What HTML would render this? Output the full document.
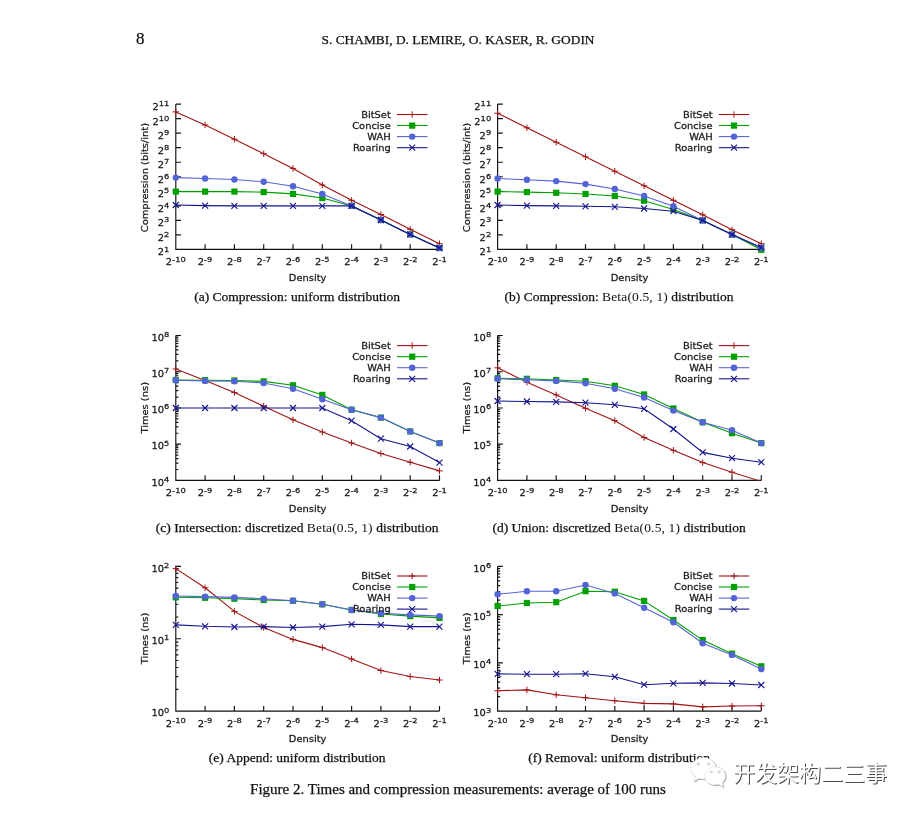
<!DOCTYPE html>
<html lang="en"><head><meta charset="utf-8"><title>Figure 2</title>
<style>
html,body{margin:0;padding:0;background:#fff}
body{width:916px;height:814px;position:relative;overflow:hidden;font-family:"Liberation Serif","Noto Serif CJK SC",serif;color:#111;-webkit-text-stroke:0.25px #111}
.pg{position:absolute;left:136px;top:29px;font-size:17px;line-height:20px}
.hd{position:absolute;left:258px;width:400px;top:31px;text-align:center;font-size:13.4px;line-height:18px;white-space:nowrap}
.cap{position:absolute;width:400px;text-align:center;font-size:13.5px;line-height:18px;white-space:nowrap}
.cm{font-family:"Liberation Serif",serif;letter-spacing:0.15px;-webkit-text-stroke:0}
.fig{position:absolute;left:158px;width:600px;top:779.5px;text-align:center;font-size:15px;line-height:18px;white-space:nowrap}
.wm{position:absolute;left:733px;top:759px;font-family:"Liberation Sans","Noto Sans CJK SC",sans-serif;font-size:22px;line-height:30px;color:#fff;font-weight:400;-webkit-text-stroke:0;text-shadow:0.9px 0.9px 0.3px #4c4c4c;white-space:nowrap}
svg text{stroke:#181818;stroke-width:0.25px}
</style></head><body>
<div class="pg">8</div>
<div class="hd">S. CHAMBI, D. LEMIRE, O. KASER, R. GODIN</div>
<svg width="916" height="814" viewBox="0 0 916 814" style="position:absolute;left:0;top:0" font-family="'DejaVu Sans','Liberation Sans',sans-serif" font-size="9.25" fill="#181818">
<g>
<text transform="translate(169.4 110.0) scale(1.07 1)" text-anchor="end">2<tspan dy="-3.8" font-size="7.8">11</tspan></text>
<text transform="translate(169.4 124.5) scale(1.07 1)" text-anchor="end">2<tspan dy="-3.8" font-size="7.8">10</tspan></text>
<text transform="translate(169.4 139.1) scale(1.07 1)" text-anchor="end">2<tspan dy="-3.8" font-size="7.8">9</tspan></text>
<text transform="translate(169.4 153.6) scale(1.07 1)" text-anchor="end">2<tspan dy="-3.8" font-size="7.8">8</tspan></text>
<text transform="translate(169.4 168.1) scale(1.07 1)" text-anchor="end">2<tspan dy="-3.8" font-size="7.8">7</tspan></text>
<text transform="translate(169.4 182.7) scale(1.07 1)" text-anchor="end">2<tspan dy="-3.8" font-size="7.8">6</tspan></text>
<text transform="translate(169.4 197.2) scale(1.07 1)" text-anchor="end">2<tspan dy="-3.8" font-size="7.8">5</tspan></text>
<text transform="translate(169.4 211.7) scale(1.07 1)" text-anchor="end">2<tspan dy="-3.8" font-size="7.8">4</tspan></text>
<text transform="translate(169.4 226.2) scale(1.07 1)" text-anchor="end">2<tspan dy="-3.8" font-size="7.8">3</tspan></text>
<text transform="translate(169.4 240.8) scale(1.07 1)" text-anchor="end">2<tspan dy="-3.8" font-size="7.8">2</tspan></text>
<text transform="translate(169.4 255.3) scale(1.07 1)" text-anchor="end">2<tspan dy="-3.8" font-size="7.8">1</tspan></text>
<text transform="translate(175.8 265.4) scale(1.07 1)" text-anchor="middle">2<tspan dy="-3.8" font-size="7.8">-10</tspan></text>
<text transform="translate(205.1 265.4) scale(1.07 1)" text-anchor="middle">2<tspan dy="-3.8" font-size="7.8">-9</tspan></text>
<text transform="translate(234.4 265.4) scale(1.07 1)" text-anchor="middle">2<tspan dy="-3.8" font-size="7.8">-8</tspan></text>
<text transform="translate(263.7 265.4) scale(1.07 1)" text-anchor="middle">2<tspan dy="-3.8" font-size="7.8">-7</tspan></text>
<text transform="translate(293.0 265.4) scale(1.07 1)" text-anchor="middle">2<tspan dy="-3.8" font-size="7.8">-6</tspan></text>
<text transform="translate(322.3 265.4) scale(1.07 1)" text-anchor="middle">2<tspan dy="-3.8" font-size="7.8">-5</tspan></text>
<text transform="translate(351.6 265.4) scale(1.07 1)" text-anchor="middle">2<tspan dy="-3.8" font-size="7.8">-4</tspan></text>
<text transform="translate(380.9 265.4) scale(1.07 1)" text-anchor="middle">2<tspan dy="-3.8" font-size="7.8">-3</tspan></text>
<text transform="translate(410.2 265.4) scale(1.07 1)" text-anchor="middle">2<tspan dy="-3.8" font-size="7.8">-2</tspan></text>
<text transform="translate(439.5 265.4) scale(1.07 1)" text-anchor="middle">2<tspan dy="-3.8" font-size="7.8">-1</tspan></text>
<path d="M175.8 104.1V249.4H439.5M175.8 104.10h5.2M175.8 118.63h5.2M175.8 133.16h5.2M175.8 147.69h5.2M175.8 162.22h5.2M175.8 176.75h5.2M175.8 191.28h5.2M175.8 205.81h5.2M175.8 220.34h5.2M175.8 234.87h5.2M175.8 249.40h5.2M175.8 249.4v-5.2M205.1 249.4v-5.2M234.4 249.4v-5.2M263.7 249.4v-5.2M293.0 249.4v-5.2M322.3 249.4v-5.2M351.6 249.4v-5.2M380.9 249.4v-5.2M410.2 249.4v-5.2M439.5 249.4v-5.2" stroke="#111" stroke-width="1.15" fill="none"/>
<text transform="translate(307.6 280.6) scale(1.07 1)" text-anchor="middle">Density</text>
<text transform="translate(147.8 177.6) rotate(-90) scale(1.07 1)" text-anchor="middle">Compression (bits/int)</text>
<clipPath id="cp0"><rect x="169.8" y="98.1" width="275.7" height="151.7"/></clipPath>
<g clip-path="url(#cp0)">
<polyline points="175.8,111.9 205.1,125.0 234.4,139.2 263.7,153.7 293.0,168.4 322.3,185.0 351.6,200.3 380.9,214.6 410.2,229.3 439.5,243.7" stroke="#a01414" stroke-width="1.1" fill="none"/>
</g>
<path d="M172.6 111.9h6.4M175.8 108.7v6.4" stroke="#a01414" stroke-width="1" fill="none"/>
<path d="M201.9 125.0h6.4M205.1 121.8v6.4" stroke="#a01414" stroke-width="1" fill="none"/>
<path d="M231.2 139.2h6.4M234.4 136.0v6.4" stroke="#a01414" stroke-width="1" fill="none"/>
<path d="M260.5 153.7h6.4M263.7 150.5v6.4" stroke="#a01414" stroke-width="1" fill="none"/>
<path d="M289.8 168.4h6.4M293.0 165.2v6.4" stroke="#a01414" stroke-width="1" fill="none"/>
<path d="M319.1 185.0h6.4M322.3 181.8v6.4" stroke="#a01414" stroke-width="1" fill="none"/>
<path d="M348.4 200.3h6.4M351.6 197.1v6.4" stroke="#a01414" stroke-width="1" fill="none"/>
<path d="M377.7 214.6h6.4M380.9 211.4v6.4" stroke="#a01414" stroke-width="1" fill="none"/>
<path d="M407.0 229.3h6.4M410.2 226.1v6.4" stroke="#a01414" stroke-width="1" fill="none"/>
<path d="M436.3 243.7h6.4M439.5 240.5v6.4" stroke="#a01414" stroke-width="1" fill="none"/>
<g clip-path="url(#cp0)">
<polyline points="175.8,191.6 205.1,191.6 234.4,191.6 263.7,192.1 293.0,193.9 322.3,198.0 351.6,205.9 380.9,220.0 410.2,234.4 439.5,248.0" stroke="#00a000" stroke-width="1.1" fill="none"/>
</g>
<rect x="172.7" y="188.5" width="6.2" height="6.2" fill="#00a000"/>
<rect x="202.0" y="188.5" width="6.2" height="6.2" fill="#00a000"/>
<rect x="231.3" y="188.5" width="6.2" height="6.2" fill="#00a000"/>
<rect x="260.6" y="189.0" width="6.2" height="6.2" fill="#00a000"/>
<rect x="289.9" y="190.8" width="6.2" height="6.2" fill="#00a000"/>
<rect x="319.2" y="194.9" width="6.2" height="6.2" fill="#00a000"/>
<rect x="348.5" y="202.8" width="6.2" height="6.2" fill="#00a000"/>
<rect x="377.8" y="216.9" width="6.2" height="6.2" fill="#00a000"/>
<rect x="407.1" y="231.3" width="6.2" height="6.2" fill="#00a000"/>
<rect x="436.4" y="244.9" width="6.2" height="6.2" fill="#00a000"/>
<g clip-path="url(#cp0)">
<polyline points="175.8,177.6 205.1,178.5 234.4,179.5 263.7,181.8 293.0,186.2 322.3,194.0 351.6,205.9 380.9,220.0 410.2,234.4 439.5,248.0" stroke="#5464d6" stroke-width="1.1" fill="none"/>
</g>
<circle cx="175.8" cy="177.6" r="3.2" fill="#5464d6"/>
<circle cx="205.1" cy="178.5" r="3.2" fill="#5464d6"/>
<circle cx="234.4" cy="179.5" r="3.2" fill="#5464d6"/>
<circle cx="263.7" cy="181.8" r="3.2" fill="#5464d6"/>
<circle cx="293.0" cy="186.2" r="3.2" fill="#5464d6"/>
<circle cx="322.3" cy="194.0" r="3.2" fill="#5464d6"/>
<circle cx="351.6" cy="205.9" r="3.2" fill="#5464d6"/>
<circle cx="380.9" cy="220.0" r="3.2" fill="#5464d6"/>
<circle cx="410.2" cy="234.4" r="3.2" fill="#5464d6"/>
<circle cx="439.5" cy="248.0" r="3.2" fill="#5464d6"/>
<g clip-path="url(#cp0)">
<polyline points="175.8,205.0 205.1,205.6 234.4,205.9 263.7,205.9 293.0,205.9 322.3,205.9 351.6,205.9 380.9,220.0 410.2,234.4 439.5,248.0" stroke="#14148c" stroke-width="1.1" fill="none"/>
</g>
<path d="M172.8 202.0l6 6M172.8 208.0l6 -6" stroke="#14148c" stroke-width="1.1" fill="none"/>
<path d="M202.1 202.6l6 6M202.1 208.6l6 -6" stroke="#14148c" stroke-width="1.1" fill="none"/>
<path d="M231.4 202.9l6 6M231.4 208.9l6 -6" stroke="#14148c" stroke-width="1.1" fill="none"/>
<path d="M260.7 202.9l6 6M260.7 208.9l6 -6" stroke="#14148c" stroke-width="1.1" fill="none"/>
<path d="M290.0 202.9l6 6M290.0 208.9l6 -6" stroke="#14148c" stroke-width="1.1" fill="none"/>
<path d="M319.3 202.9l6 6M319.3 208.9l6 -6" stroke="#14148c" stroke-width="1.1" fill="none"/>
<path d="M348.6 202.9l6 6M348.6 208.9l6 -6" stroke="#14148c" stroke-width="1.1" fill="none"/>
<path d="M377.9 217.0l6 6M377.9 223.0l6 -6" stroke="#14148c" stroke-width="1.1" fill="none"/>
<path d="M407.2 231.4l6 6M407.2 237.4l6 -6" stroke="#14148c" stroke-width="1.1" fill="none"/>
<path d="M436.5 245.0l6 6M436.5 251.0l6 -6" stroke="#14148c" stroke-width="1.1" fill="none"/>
<g clip-path="url(#cp0)">
</g>
<text transform="translate(390.8 117.5) scale(1.07 1)" text-anchor="end">BitSet</text>
<path d="M397.0 114.5h30.5" stroke="#a01414" stroke-width="1.1"/>
<path d="M409.0 114.5h6.4M412.2 111.3v6.4" stroke="#a01414" stroke-width="1" fill="none"/>
<text transform="translate(390.8 128.6) scale(1.07 1)" text-anchor="end">Concise</text>
<path d="M397.0 125.5h30.5" stroke="#00a000" stroke-width="1.1"/>
<rect x="409.1" y="122.5" width="6.2" height="6.2" fill="#00a000"/>
<text transform="translate(390.8 139.6) scale(1.07 1)" text-anchor="end">WAH</text>
<path d="M397.0 136.6h30.5" stroke="#5464d6" stroke-width="1.1"/>
<circle cx="412.2" cy="136.6" r="3.2" fill="#5464d6"/>
<text transform="translate(390.8 150.7) scale(1.07 1)" text-anchor="end">Roaring</text>
<path d="M397.0 147.7h30.5" stroke="#14148c" stroke-width="1.1"/>
<path d="M409.2 144.7l6 6M409.2 150.7l6 -6" stroke="#14148c" stroke-width="1.1" fill="none"/>
</g>
<g>
<text transform="translate(491.2 110.0) scale(1.07 1)" text-anchor="end">2<tspan dy="-3.8" font-size="7.8">11</tspan></text>
<text transform="translate(491.2 124.5) scale(1.07 1)" text-anchor="end">2<tspan dy="-3.8" font-size="7.8">10</tspan></text>
<text transform="translate(491.2 139.1) scale(1.07 1)" text-anchor="end">2<tspan dy="-3.8" font-size="7.8">9</tspan></text>
<text transform="translate(491.2 153.6) scale(1.07 1)" text-anchor="end">2<tspan dy="-3.8" font-size="7.8">8</tspan></text>
<text transform="translate(491.2 168.1) scale(1.07 1)" text-anchor="end">2<tspan dy="-3.8" font-size="7.8">7</tspan></text>
<text transform="translate(491.2 182.7) scale(1.07 1)" text-anchor="end">2<tspan dy="-3.8" font-size="7.8">6</tspan></text>
<text transform="translate(491.2 197.2) scale(1.07 1)" text-anchor="end">2<tspan dy="-3.8" font-size="7.8">5</tspan></text>
<text transform="translate(491.2 211.7) scale(1.07 1)" text-anchor="end">2<tspan dy="-3.8" font-size="7.8">4</tspan></text>
<text transform="translate(491.2 226.2) scale(1.07 1)" text-anchor="end">2<tspan dy="-3.8" font-size="7.8">3</tspan></text>
<text transform="translate(491.2 240.8) scale(1.07 1)" text-anchor="end">2<tspan dy="-3.8" font-size="7.8">2</tspan></text>
<text transform="translate(491.2 255.3) scale(1.07 1)" text-anchor="end">2<tspan dy="-3.8" font-size="7.8">1</tspan></text>
<text transform="translate(497.6 265.4) scale(1.07 1)" text-anchor="middle">2<tspan dy="-3.8" font-size="7.8">-10</tspan></text>
<text transform="translate(526.9 265.4) scale(1.07 1)" text-anchor="middle">2<tspan dy="-3.8" font-size="7.8">-9</tspan></text>
<text transform="translate(556.2 265.4) scale(1.07 1)" text-anchor="middle">2<tspan dy="-3.8" font-size="7.8">-8</tspan></text>
<text transform="translate(585.5 265.4) scale(1.07 1)" text-anchor="middle">2<tspan dy="-3.8" font-size="7.8">-7</tspan></text>
<text transform="translate(614.8 265.4) scale(1.07 1)" text-anchor="middle">2<tspan dy="-3.8" font-size="7.8">-6</tspan></text>
<text transform="translate(644.1 265.4) scale(1.07 1)" text-anchor="middle">2<tspan dy="-3.8" font-size="7.8">-5</tspan></text>
<text transform="translate(673.4 265.4) scale(1.07 1)" text-anchor="middle">2<tspan dy="-3.8" font-size="7.8">-4</tspan></text>
<text transform="translate(702.7 265.4) scale(1.07 1)" text-anchor="middle">2<tspan dy="-3.8" font-size="7.8">-3</tspan></text>
<text transform="translate(732.0 265.4) scale(1.07 1)" text-anchor="middle">2<tspan dy="-3.8" font-size="7.8">-2</tspan></text>
<text transform="translate(761.3 265.4) scale(1.07 1)" text-anchor="middle">2<tspan dy="-3.8" font-size="7.8">-1</tspan></text>
<path d="M497.6 104.1V249.4H761.3M497.6 104.10h5.2M497.6 118.63h5.2M497.6 133.16h5.2M497.6 147.69h5.2M497.6 162.22h5.2M497.6 176.75h5.2M497.6 191.28h5.2M497.6 205.81h5.2M497.6 220.34h5.2M497.6 234.87h5.2M497.6 249.40h5.2M497.6 249.4v-5.2M526.9 249.4v-5.2M556.2 249.4v-5.2M585.5 249.4v-5.2M614.8 249.4v-5.2M644.1 249.4v-5.2M673.4 249.4v-5.2M702.7 249.4v-5.2M732.0 249.4v-5.2M761.3 249.4v-5.2" stroke="#111" stroke-width="1.15" fill="none"/>
<text transform="translate(629.5 280.6) scale(1.07 1)" text-anchor="middle">Density</text>
<text transform="translate(469.6 177.6) rotate(-90) scale(1.07 1)" text-anchor="middle">Compression (bits/int)</text>
<clipPath id="cp1"><rect x="491.6" y="98.1" width="275.7" height="151.7"/></clipPath>
<g clip-path="url(#cp1)">
<polyline points="497.6,113.2 526.9,127.8 556.2,142.3 585.5,156.8 614.8,171.2 644.1,185.8 673.4,200.3 702.7,214.8 732.0,229.7 761.3,243.7" stroke="#a01414" stroke-width="1.1" fill="none"/>
</g>
<path d="M494.4 113.2h6.4M497.6 110.0v6.4" stroke="#a01414" stroke-width="1" fill="none"/>
<path d="M523.7 127.8h6.4M526.9 124.6v6.4" stroke="#a01414" stroke-width="1" fill="none"/>
<path d="M553.0 142.3h6.4M556.2 139.1v6.4" stroke="#a01414" stroke-width="1" fill="none"/>
<path d="M582.3 156.8h6.4M585.5 153.6v6.4" stroke="#a01414" stroke-width="1" fill="none"/>
<path d="M611.6 171.2h6.4M614.8 168.0v6.4" stroke="#a01414" stroke-width="1" fill="none"/>
<path d="M640.9 185.8h6.4M644.1 182.6v6.4" stroke="#a01414" stroke-width="1" fill="none"/>
<path d="M670.2 200.3h6.4M673.4 197.1v6.4" stroke="#a01414" stroke-width="1" fill="none"/>
<path d="M699.5 214.8h6.4M702.7 211.6v6.4" stroke="#a01414" stroke-width="1" fill="none"/>
<path d="M728.8 229.7h6.4M732.0 226.5v6.4" stroke="#a01414" stroke-width="1" fill="none"/>
<path d="M758.1 243.7h6.4M761.3 240.5v6.4" stroke="#a01414" stroke-width="1" fill="none"/>
<g clip-path="url(#cp1)">
<polyline points="497.6,191.6 526.9,192.1 556.2,192.8 585.5,194.0 614.8,196.0 644.1,200.7 673.4,209.4 702.7,220.4 732.0,234.6 761.3,249.8" stroke="#00a000" stroke-width="1.1" fill="none"/>
</g>
<rect x="494.5" y="188.5" width="6.2" height="6.2" fill="#00a000"/>
<rect x="523.8" y="189.0" width="6.2" height="6.2" fill="#00a000"/>
<rect x="553.1" y="189.7" width="6.2" height="6.2" fill="#00a000"/>
<rect x="582.4" y="190.9" width="6.2" height="6.2" fill="#00a000"/>
<rect x="611.7" y="192.9" width="6.2" height="6.2" fill="#00a000"/>
<rect x="641.0" y="197.6" width="6.2" height="6.2" fill="#00a000"/>
<rect x="670.3" y="206.3" width="6.2" height="6.2" fill="#00a000"/>
<rect x="699.6" y="217.3" width="6.2" height="6.2" fill="#00a000"/>
<rect x="728.9" y="231.5" width="6.2" height="6.2" fill="#00a000"/>
<rect x="758.2" y="246.7" width="6.2" height="6.2" fill="#00a000"/>
<g clip-path="url(#cp1)">
<polyline points="497.6,178.5 526.9,179.7 556.2,181.1 585.5,184.1 614.8,189.0 644.1,196.0 673.4,206.3 702.7,220.4 732.0,234.6 761.3,248.0" stroke="#5464d6" stroke-width="1.1" fill="none"/>
</g>
<circle cx="497.6" cy="178.5" r="3.2" fill="#5464d6"/>
<circle cx="526.9" cy="179.7" r="3.2" fill="#5464d6"/>
<circle cx="556.2" cy="181.1" r="3.2" fill="#5464d6"/>
<circle cx="585.5" cy="184.1" r="3.2" fill="#5464d6"/>
<circle cx="614.8" cy="189.0" r="3.2" fill="#5464d6"/>
<circle cx="644.1" cy="196.0" r="3.2" fill="#5464d6"/>
<circle cx="673.4" cy="206.3" r="3.2" fill="#5464d6"/>
<circle cx="702.7" cy="220.4" r="3.2" fill="#5464d6"/>
<circle cx="732.0" cy="234.6" r="3.2" fill="#5464d6"/>
<circle cx="761.3" cy="248.0" r="3.2" fill="#5464d6"/>
<g clip-path="url(#cp1)">
<polyline points="497.6,205.0 526.9,205.6 556.2,205.9 585.5,206.3 614.8,206.8 644.1,208.5 673.4,211.2 702.7,220.4 732.0,234.6 761.3,247.5" stroke="#14148c" stroke-width="1.1" fill="none"/>
</g>
<path d="M494.6 202.0l6 6M494.6 208.0l6 -6" stroke="#14148c" stroke-width="1.1" fill="none"/>
<path d="M523.9 202.6l6 6M523.9 208.6l6 -6" stroke="#14148c" stroke-width="1.1" fill="none"/>
<path d="M553.2 202.9l6 6M553.2 208.9l6 -6" stroke="#14148c" stroke-width="1.1" fill="none"/>
<path d="M582.5 203.3l6 6M582.5 209.3l6 -6" stroke="#14148c" stroke-width="1.1" fill="none"/>
<path d="M611.8 203.8l6 6M611.8 209.8l6 -6" stroke="#14148c" stroke-width="1.1" fill="none"/>
<path d="M641.1 205.5l6 6M641.1 211.5l6 -6" stroke="#14148c" stroke-width="1.1" fill="none"/>
<path d="M670.4 208.2l6 6M670.4 214.2l6 -6" stroke="#14148c" stroke-width="1.1" fill="none"/>
<path d="M699.7 217.4l6 6M699.7 223.4l6 -6" stroke="#14148c" stroke-width="1.1" fill="none"/>
<path d="M729.0 231.6l6 6M729.0 237.6l6 -6" stroke="#14148c" stroke-width="1.1" fill="none"/>
<path d="M758.3 244.5l6 6M758.3 250.5l6 -6" stroke="#14148c" stroke-width="1.1" fill="none"/>
<g clip-path="url(#cp1)">
</g>
<text transform="translate(712.6 117.5) scale(1.07 1)" text-anchor="end">BitSet</text>
<path d="M718.8 114.5h30.5" stroke="#a01414" stroke-width="1.1"/>
<path d="M730.8 114.5h6.4M734.0 111.3v6.4" stroke="#a01414" stroke-width="1" fill="none"/>
<text transform="translate(712.6 128.6) scale(1.07 1)" text-anchor="end">Concise</text>
<path d="M718.8 125.5h30.5" stroke="#00a000" stroke-width="1.1"/>
<rect x="730.9" y="122.5" width="6.2" height="6.2" fill="#00a000"/>
<text transform="translate(712.6 139.6) scale(1.07 1)" text-anchor="end">WAH</text>
<path d="M718.8 136.6h30.5" stroke="#5464d6" stroke-width="1.1"/>
<circle cx="734.0" cy="136.6" r="3.2" fill="#5464d6"/>
<text transform="translate(712.6 150.7) scale(1.07 1)" text-anchor="end">Roaring</text>
<path d="M718.8 147.7h30.5" stroke="#14148c" stroke-width="1.1"/>
<path d="M731.0 144.7l6 6M731.0 150.7l6 -6" stroke="#14148c" stroke-width="1.1" fill="none"/>
</g>
<g>
<text transform="translate(169.4 340.7) scale(1.07 1)" text-anchor="end">10<tspan dy="-3.8" font-size="7.8">8</tspan></text>
<text transform="translate(169.4 376.9) scale(1.07 1)" text-anchor="end">10<tspan dy="-3.8" font-size="7.8">7</tspan></text>
<text transform="translate(169.4 413.1) scale(1.07 1)" text-anchor="end">10<tspan dy="-3.8" font-size="7.8">6</tspan></text>
<text transform="translate(169.4 449.4) scale(1.07 1)" text-anchor="end">10<tspan dy="-3.8" font-size="7.8">5</tspan></text>
<text transform="translate(169.4 485.6) scale(1.07 1)" text-anchor="end">10<tspan dy="-3.8" font-size="7.8">4</tspan></text>
<text transform="translate(175.8 496.4) scale(1.07 1)" text-anchor="middle">2<tspan dy="-3.8" font-size="7.8">-10</tspan></text>
<text transform="translate(205.1 496.4) scale(1.07 1)" text-anchor="middle">2<tspan dy="-3.8" font-size="7.8">-9</tspan></text>
<text transform="translate(234.4 496.4) scale(1.07 1)" text-anchor="middle">2<tspan dy="-3.8" font-size="7.8">-8</tspan></text>
<text transform="translate(263.7 496.4) scale(1.07 1)" text-anchor="middle">2<tspan dy="-3.8" font-size="7.8">-7</tspan></text>
<text transform="translate(293.0 496.4) scale(1.07 1)" text-anchor="middle">2<tspan dy="-3.8" font-size="7.8">-6</tspan></text>
<text transform="translate(322.3 496.4) scale(1.07 1)" text-anchor="middle">2<tspan dy="-3.8" font-size="7.8">-5</tspan></text>
<text transform="translate(351.6 496.4) scale(1.07 1)" text-anchor="middle">2<tspan dy="-3.8" font-size="7.8">-4</tspan></text>
<text transform="translate(380.9 496.4) scale(1.07 1)" text-anchor="middle">2<tspan dy="-3.8" font-size="7.8">-3</tspan></text>
<text transform="translate(410.2 496.4) scale(1.07 1)" text-anchor="middle">2<tspan dy="-3.8" font-size="7.8">-2</tspan></text>
<text transform="translate(439.5 496.4) scale(1.07 1)" text-anchor="middle">2<tspan dy="-3.8" font-size="7.8">-1</tspan></text>
<path d="M175.8 335.5V480.4H439.5M175.8 335.50h5.2M175.8 360.82h2.6M175.8 354.44h2.6M175.8 349.92h2.6M175.8 346.40h2.6M175.8 343.54h2.6M175.8 341.11h2.6M175.8 339.01h2.6M175.8 337.16h2.6M175.8 371.73h5.2M175.8 397.05h2.6M175.8 390.67h2.6M175.8 386.14h2.6M175.8 382.63h2.6M175.8 379.76h2.6M175.8 377.34h2.6M175.8 375.24h2.6M175.8 373.38h2.6M175.8 407.95h5.2M175.8 433.27h2.6M175.8 426.89h2.6M175.8 422.37h2.6M175.8 418.85h2.6M175.8 415.99h2.6M175.8 413.56h2.6M175.8 411.46h2.6M175.8 409.61h2.6M175.8 444.17h5.2M175.8 469.50h2.6M175.8 463.12h2.6M175.8 458.59h2.6M175.8 455.08h2.6M175.8 452.21h2.6M175.8 449.79h2.6M175.8 447.69h2.6M175.8 445.83h2.6M175.8 480.40h5.2M175.8 480.4v-5.2M205.1 480.4v-5.2M234.4 480.4v-5.2M263.7 480.4v-5.2M293.0 480.4v-5.2M322.3 480.4v-5.2M351.6 480.4v-5.2M380.9 480.4v-5.2M410.2 480.4v-5.2M439.5 480.4v-5.2" stroke="#111" stroke-width="1.15" fill="none"/>
<text transform="translate(307.6 511.6) scale(1.07 1)" text-anchor="middle">Density</text>
<text transform="translate(147.8 407.8) rotate(-90) scale(1.07 1)" text-anchor="middle">Times (ns)</text>
<clipPath id="cp2"><rect x="169.8" y="329.5" width="275.7" height="151.3"/></clipPath>
<g clip-path="url(#cp2)">
<polyline points="175.8,369.0 205.1,380.5 234.4,392.6 263.7,406.2 293.0,419.8 322.3,432.0 351.6,443.0 380.9,453.5 410.2,462.2 439.5,470.9" stroke="#a01414" stroke-width="1.1" fill="none"/>
</g>
<path d="M172.6 369.0h6.4M175.8 365.8v6.4" stroke="#a01414" stroke-width="1" fill="none"/>
<path d="M201.9 380.5h6.4M205.1 377.3v6.4" stroke="#a01414" stroke-width="1" fill="none"/>
<path d="M231.2 392.6h6.4M234.4 389.4v6.4" stroke="#a01414" stroke-width="1" fill="none"/>
<path d="M260.5 406.2h6.4M263.7 403.0v6.4" stroke="#a01414" stroke-width="1" fill="none"/>
<path d="M289.8 419.8h6.4M293.0 416.6v6.4" stroke="#a01414" stroke-width="1" fill="none"/>
<path d="M319.1 432.0h6.4M322.3 428.8v6.4" stroke="#a01414" stroke-width="1" fill="none"/>
<path d="M348.4 443.0h6.4M351.6 439.8v6.4" stroke="#a01414" stroke-width="1" fill="none"/>
<path d="M377.7 453.5h6.4M380.9 450.3v6.4" stroke="#a01414" stroke-width="1" fill="none"/>
<path d="M407.0 462.2h6.4M410.2 459.0v6.4" stroke="#a01414" stroke-width="1" fill="none"/>
<path d="M436.3 470.9h6.4M439.5 467.7v6.4" stroke="#a01414" stroke-width="1" fill="none"/>
<g clip-path="url(#cp2)">
<polyline points="175.8,380.0 205.1,380.2 234.4,380.5 263.7,381.4 293.0,385.3 322.3,394.9 351.6,409.7 380.9,417.6 410.2,431.4 439.5,443.1" stroke="#00a000" stroke-width="1.1" fill="none"/>
</g>
<rect x="172.7" y="376.9" width="6.2" height="6.2" fill="#00a000"/>
<rect x="202.0" y="377.1" width="6.2" height="6.2" fill="#00a000"/>
<rect x="231.3" y="377.4" width="6.2" height="6.2" fill="#00a000"/>
<rect x="260.6" y="378.3" width="6.2" height="6.2" fill="#00a000"/>
<rect x="289.9" y="382.2" width="6.2" height="6.2" fill="#00a000"/>
<rect x="319.2" y="391.8" width="6.2" height="6.2" fill="#00a000"/>
<rect x="348.5" y="406.6" width="6.2" height="6.2" fill="#00a000"/>
<rect x="377.8" y="414.5" width="6.2" height="6.2" fill="#00a000"/>
<rect x="407.1" y="428.3" width="6.2" height="6.2" fill="#00a000"/>
<rect x="436.4" y="440.0" width="6.2" height="6.2" fill="#00a000"/>
<g clip-path="url(#cp2)">
<polyline points="175.8,380.2 205.1,380.9 234.4,381.2 263.7,383.0 293.0,388.8 322.3,399.2 351.6,409.7 380.9,417.6 410.2,431.4 439.5,443.1" stroke="#5464d6" stroke-width="1.1" fill="none"/>
</g>
<circle cx="175.8" cy="380.2" r="3.2" fill="#5464d6"/>
<circle cx="205.1" cy="380.9" r="3.2" fill="#5464d6"/>
<circle cx="234.4" cy="381.2" r="3.2" fill="#5464d6"/>
<circle cx="263.7" cy="383.0" r="3.2" fill="#5464d6"/>
<circle cx="293.0" cy="388.8" r="3.2" fill="#5464d6"/>
<circle cx="322.3" cy="399.2" r="3.2" fill="#5464d6"/>
<circle cx="351.6" cy="409.7" r="3.2" fill="#5464d6"/>
<circle cx="380.9" cy="417.6" r="3.2" fill="#5464d6"/>
<circle cx="410.2" cy="431.4" r="3.2" fill="#5464d6"/>
<circle cx="439.5" cy="443.1" r="3.2" fill="#5464d6"/>
<g clip-path="url(#cp2)">
<polyline points="175.8,408.0 205.1,408.0 234.4,408.0 263.7,408.0 293.0,408.0 322.3,408.0 351.6,420.7 380.9,438.7 410.2,446.5 439.5,462.6" stroke="#14148c" stroke-width="1.1" fill="none"/>
</g>
<path d="M172.8 405.0l6 6M172.8 411.0l6 -6" stroke="#14148c" stroke-width="1.1" fill="none"/>
<path d="M202.1 405.0l6 6M202.1 411.0l6 -6" stroke="#14148c" stroke-width="1.1" fill="none"/>
<path d="M231.4 405.0l6 6M231.4 411.0l6 -6" stroke="#14148c" stroke-width="1.1" fill="none"/>
<path d="M260.7 405.0l6 6M260.7 411.0l6 -6" stroke="#14148c" stroke-width="1.1" fill="none"/>
<path d="M290.0 405.0l6 6M290.0 411.0l6 -6" stroke="#14148c" stroke-width="1.1" fill="none"/>
<path d="M319.3 405.0l6 6M319.3 411.0l6 -6" stroke="#14148c" stroke-width="1.1" fill="none"/>
<path d="M348.6 417.7l6 6M348.6 423.7l6 -6" stroke="#14148c" stroke-width="1.1" fill="none"/>
<path d="M377.9 435.7l6 6M377.9 441.7l6 -6" stroke="#14148c" stroke-width="1.1" fill="none"/>
<path d="M407.2 443.5l6 6M407.2 449.5l6 -6" stroke="#14148c" stroke-width="1.1" fill="none"/>
<path d="M436.5 459.6l6 6M436.5 465.6l6 -6" stroke="#14148c" stroke-width="1.1" fill="none"/>
<g clip-path="url(#cp2)">
</g>
<text transform="translate(390.8 348.6) scale(1.07 1)" text-anchor="end">BitSet</text>
<path d="M397.0 345.6h30.5" stroke="#a01414" stroke-width="1.1"/>
<path d="M409.0 345.6h6.4M412.2 342.4v6.4" stroke="#a01414" stroke-width="1" fill="none"/>
<text transform="translate(390.8 359.7) scale(1.07 1)" text-anchor="end">Concise</text>
<path d="M397.0 356.7h30.5" stroke="#00a000" stroke-width="1.1"/>
<rect x="409.1" y="353.6" width="6.2" height="6.2" fill="#00a000"/>
<text transform="translate(390.8 370.7) scale(1.07 1)" text-anchor="end">WAH</text>
<path d="M397.0 367.7h30.5" stroke="#5464d6" stroke-width="1.1"/>
<circle cx="412.2" cy="367.7" r="3.2" fill="#5464d6"/>
<text transform="translate(390.8 381.8) scale(1.07 1)" text-anchor="end">Roaring</text>
<path d="M397.0 378.8h30.5" stroke="#14148c" stroke-width="1.1"/>
<path d="M409.2 375.8l6 6M409.2 381.8l6 -6" stroke="#14148c" stroke-width="1.1" fill="none"/>
</g>
<g>
<text transform="translate(491.2 340.7) scale(1.07 1)" text-anchor="end">10<tspan dy="-3.8" font-size="7.8">8</tspan></text>
<text transform="translate(491.2 376.9) scale(1.07 1)" text-anchor="end">10<tspan dy="-3.8" font-size="7.8">7</tspan></text>
<text transform="translate(491.2 413.1) scale(1.07 1)" text-anchor="end">10<tspan dy="-3.8" font-size="7.8">6</tspan></text>
<text transform="translate(491.2 449.4) scale(1.07 1)" text-anchor="end">10<tspan dy="-3.8" font-size="7.8">5</tspan></text>
<text transform="translate(491.2 485.6) scale(1.07 1)" text-anchor="end">10<tspan dy="-3.8" font-size="7.8">4</tspan></text>
<text transform="translate(497.6 496.4) scale(1.07 1)" text-anchor="middle">2<tspan dy="-3.8" font-size="7.8">-10</tspan></text>
<text transform="translate(526.9 496.4) scale(1.07 1)" text-anchor="middle">2<tspan dy="-3.8" font-size="7.8">-9</tspan></text>
<text transform="translate(556.2 496.4) scale(1.07 1)" text-anchor="middle">2<tspan dy="-3.8" font-size="7.8">-8</tspan></text>
<text transform="translate(585.5 496.4) scale(1.07 1)" text-anchor="middle">2<tspan dy="-3.8" font-size="7.8">-7</tspan></text>
<text transform="translate(614.8 496.4) scale(1.07 1)" text-anchor="middle">2<tspan dy="-3.8" font-size="7.8">-6</tspan></text>
<text transform="translate(644.1 496.4) scale(1.07 1)" text-anchor="middle">2<tspan dy="-3.8" font-size="7.8">-5</tspan></text>
<text transform="translate(673.4 496.4) scale(1.07 1)" text-anchor="middle">2<tspan dy="-3.8" font-size="7.8">-4</tspan></text>
<text transform="translate(702.7 496.4) scale(1.07 1)" text-anchor="middle">2<tspan dy="-3.8" font-size="7.8">-3</tspan></text>
<text transform="translate(732.0 496.4) scale(1.07 1)" text-anchor="middle">2<tspan dy="-3.8" font-size="7.8">-2</tspan></text>
<text transform="translate(761.3 496.4) scale(1.07 1)" text-anchor="middle">2<tspan dy="-3.8" font-size="7.8">-1</tspan></text>
<path d="M497.6 335.5V480.4H761.3M497.6 335.50h5.2M497.6 360.82h2.6M497.6 354.44h2.6M497.6 349.92h2.6M497.6 346.40h2.6M497.6 343.54h2.6M497.6 341.11h2.6M497.6 339.01h2.6M497.6 337.16h2.6M497.6 371.73h5.2M497.6 397.05h2.6M497.6 390.67h2.6M497.6 386.14h2.6M497.6 382.63h2.6M497.6 379.76h2.6M497.6 377.34h2.6M497.6 375.24h2.6M497.6 373.38h2.6M497.6 407.95h5.2M497.6 433.27h2.6M497.6 426.89h2.6M497.6 422.37h2.6M497.6 418.85h2.6M497.6 415.99h2.6M497.6 413.56h2.6M497.6 411.46h2.6M497.6 409.61h2.6M497.6 444.17h5.2M497.6 469.50h2.6M497.6 463.12h2.6M497.6 458.59h2.6M497.6 455.08h2.6M497.6 452.21h2.6M497.6 449.79h2.6M497.6 447.69h2.6M497.6 445.83h2.6M497.6 480.40h5.2M497.6 480.4v-5.2M526.9 480.4v-5.2M556.2 480.4v-5.2M585.5 480.4v-5.2M614.8 480.4v-5.2M644.1 480.4v-5.2M673.4 480.4v-5.2M702.7 480.4v-5.2M732.0 480.4v-5.2M761.3 480.4v-5.2" stroke="#111" stroke-width="1.15" fill="none"/>
<text transform="translate(629.5 511.6) scale(1.07 1)" text-anchor="middle">Density</text>
<text transform="translate(469.6 407.8) rotate(-90) scale(1.07 1)" text-anchor="middle">Times (ns)</text>
<clipPath id="cp3"><rect x="491.6" y="329.5" width="275.7" height="151.3"/></clipPath>
<g clip-path="url(#cp3)">
<polyline points="497.6,367.8 526.9,382.3 556.2,394.9 585.5,408.3 614.8,420.7 644.1,437.5 673.4,450.3 702.7,462.6 732.0,472.2 761.3,481.4" stroke="#a01414" stroke-width="1.1" fill="none"/>
</g>
<path d="M494.4 367.8h6.4M497.6 364.6v6.4" stroke="#a01414" stroke-width="1" fill="none"/>
<path d="M523.7 382.3h6.4M526.9 379.1v6.4" stroke="#a01414" stroke-width="1" fill="none"/>
<path d="M553.0 394.9h6.4M556.2 391.7v6.4" stroke="#a01414" stroke-width="1" fill="none"/>
<path d="M582.3 408.3h6.4M585.5 405.1v6.4" stroke="#a01414" stroke-width="1" fill="none"/>
<path d="M611.6 420.7h6.4M614.8 417.5v6.4" stroke="#a01414" stroke-width="1" fill="none"/>
<path d="M640.9 437.5h6.4M644.1 434.3v6.4" stroke="#a01414" stroke-width="1" fill="none"/>
<path d="M670.2 450.3h6.4M673.4 447.1v6.4" stroke="#a01414" stroke-width="1" fill="none"/>
<path d="M699.5 462.6h6.4M702.7 459.4v6.4" stroke="#a01414" stroke-width="1" fill="none"/>
<path d="M728.8 472.2h6.4M732.0 469.0v6.4" stroke="#a01414" stroke-width="1" fill="none"/>
<g clip-path="url(#cp3)">
<polyline points="497.6,378.3 526.9,378.8 556.2,380.0 585.5,381.2 614.8,385.8 644.1,394.5 673.4,408.5 702.7,422.3 732.0,433.2 761.3,443.1" stroke="#00a000" stroke-width="1.1" fill="none"/>
</g>
<rect x="494.5" y="375.2" width="6.2" height="6.2" fill="#00a000"/>
<rect x="523.8" y="375.7" width="6.2" height="6.2" fill="#00a000"/>
<rect x="553.1" y="376.9" width="6.2" height="6.2" fill="#00a000"/>
<rect x="582.4" y="378.1" width="6.2" height="6.2" fill="#00a000"/>
<rect x="611.7" y="382.7" width="6.2" height="6.2" fill="#00a000"/>
<rect x="641.0" y="391.4" width="6.2" height="6.2" fill="#00a000"/>
<rect x="670.3" y="405.4" width="6.2" height="6.2" fill="#00a000"/>
<rect x="699.6" y="419.2" width="6.2" height="6.2" fill="#00a000"/>
<rect x="728.9" y="430.1" width="6.2" height="6.2" fill="#00a000"/>
<rect x="758.2" y="440.0" width="6.2" height="6.2" fill="#00a000"/>
<g clip-path="url(#cp3)">
<polyline points="497.6,378.8 526.9,379.7 556.2,380.9 585.5,383.2 614.8,388.8 644.1,397.5 673.4,410.6 702.7,422.3 732.0,430.2 761.3,443.1" stroke="#5464d6" stroke-width="1.1" fill="none"/>
</g>
<circle cx="497.6" cy="378.8" r="3.2" fill="#5464d6"/>
<circle cx="526.9" cy="379.7" r="3.2" fill="#5464d6"/>
<circle cx="556.2" cy="380.9" r="3.2" fill="#5464d6"/>
<circle cx="585.5" cy="383.2" r="3.2" fill="#5464d6"/>
<circle cx="614.8" cy="388.8" r="3.2" fill="#5464d6"/>
<circle cx="644.1" cy="397.5" r="3.2" fill="#5464d6"/>
<circle cx="673.4" cy="410.6" r="3.2" fill="#5464d6"/>
<circle cx="702.7" cy="422.3" r="3.2" fill="#5464d6"/>
<circle cx="732.0" cy="430.2" r="3.2" fill="#5464d6"/>
<circle cx="761.3" cy="443.1" r="3.2" fill="#5464d6"/>
<g clip-path="url(#cp3)">
<polyline points="497.6,401.0 526.9,401.5 556.2,401.9 585.5,402.7 614.8,404.8 644.1,408.8 673.4,429.0 702.7,452.4 732.0,458.2 761.3,462.2" stroke="#14148c" stroke-width="1.1" fill="none"/>
</g>
<path d="M494.6 398.0l6 6M494.6 404.0l6 -6" stroke="#14148c" stroke-width="1.1" fill="none"/>
<path d="M523.9 398.5l6 6M523.9 404.5l6 -6" stroke="#14148c" stroke-width="1.1" fill="none"/>
<path d="M553.2 398.9l6 6M553.2 404.9l6 -6" stroke="#14148c" stroke-width="1.1" fill="none"/>
<path d="M582.5 399.7l6 6M582.5 405.7l6 -6" stroke="#14148c" stroke-width="1.1" fill="none"/>
<path d="M611.8 401.8l6 6M611.8 407.8l6 -6" stroke="#14148c" stroke-width="1.1" fill="none"/>
<path d="M641.1 405.8l6 6M641.1 411.8l6 -6" stroke="#14148c" stroke-width="1.1" fill="none"/>
<path d="M670.4 426.0l6 6M670.4 432.0l6 -6" stroke="#14148c" stroke-width="1.1" fill="none"/>
<path d="M699.7 449.4l6 6M699.7 455.4l6 -6" stroke="#14148c" stroke-width="1.1" fill="none"/>
<path d="M729.0 455.2l6 6M729.0 461.2l6 -6" stroke="#14148c" stroke-width="1.1" fill="none"/>
<path d="M758.3 459.2l6 6M758.3 465.2l6 -6" stroke="#14148c" stroke-width="1.1" fill="none"/>
<g clip-path="url(#cp3)">
</g>
<text transform="translate(712.6 348.6) scale(1.07 1)" text-anchor="end">BitSet</text>
<path d="M718.8 345.6h30.5" stroke="#a01414" stroke-width="1.1"/>
<path d="M730.8 345.6h6.4M734.0 342.4v6.4" stroke="#a01414" stroke-width="1" fill="none"/>
<text transform="translate(712.6 359.7) scale(1.07 1)" text-anchor="end">Concise</text>
<path d="M718.8 356.7h30.5" stroke="#00a000" stroke-width="1.1"/>
<rect x="730.9" y="353.6" width="6.2" height="6.2" fill="#00a000"/>
<text transform="translate(712.6 370.7) scale(1.07 1)" text-anchor="end">WAH</text>
<path d="M718.8 367.7h30.5" stroke="#5464d6" stroke-width="1.1"/>
<circle cx="734.0" cy="367.7" r="3.2" fill="#5464d6"/>
<text transform="translate(712.6 381.8) scale(1.07 1)" text-anchor="end">Roaring</text>
<path d="M718.8 378.8h30.5" stroke="#14148c" stroke-width="1.1"/>
<path d="M731.0 375.8l6 6M731.0 381.8l6 -6" stroke="#14148c" stroke-width="1.1" fill="none"/>
</g>
<g>
<text transform="translate(169.4 571.6) scale(1.07 1)" text-anchor="end">10<tspan dy="-3.8" font-size="7.8">2</tspan></text>
<text transform="translate(169.4 644.0) scale(1.07 1)" text-anchor="end">10<tspan dy="-3.8" font-size="7.8">1</tspan></text>
<text transform="translate(169.4 716.3) scale(1.07 1)" text-anchor="end">10<tspan dy="-3.8" font-size="7.8">0</tspan></text>
<text transform="translate(175.8 727.1) scale(1.07 1)" text-anchor="middle">2<tspan dy="-3.8" font-size="7.8">-10</tspan></text>
<text transform="translate(205.1 727.1) scale(1.07 1)" text-anchor="middle">2<tspan dy="-3.8" font-size="7.8">-9</tspan></text>
<text transform="translate(234.4 727.1) scale(1.07 1)" text-anchor="middle">2<tspan dy="-3.8" font-size="7.8">-8</tspan></text>
<text transform="translate(263.7 727.1) scale(1.07 1)" text-anchor="middle">2<tspan dy="-3.8" font-size="7.8">-7</tspan></text>
<text transform="translate(293.0 727.1) scale(1.07 1)" text-anchor="middle">2<tspan dy="-3.8" font-size="7.8">-6</tspan></text>
<text transform="translate(322.3 727.1) scale(1.07 1)" text-anchor="middle">2<tspan dy="-3.8" font-size="7.8">-5</tspan></text>
<text transform="translate(351.6 727.1) scale(1.07 1)" text-anchor="middle">2<tspan dy="-3.8" font-size="7.8">-4</tspan></text>
<text transform="translate(380.9 727.1) scale(1.07 1)" text-anchor="middle">2<tspan dy="-3.8" font-size="7.8">-3</tspan></text>
<text transform="translate(410.2 727.1) scale(1.07 1)" text-anchor="middle">2<tspan dy="-3.8" font-size="7.8">-2</tspan></text>
<text transform="translate(439.5 727.1) scale(1.07 1)" text-anchor="middle">2<tspan dy="-3.8" font-size="7.8">-1</tspan></text>
<path d="M175.8 566.4V711.1H439.5M175.8 566.40h5.2M175.8 616.97h2.6M175.8 604.23h2.6M175.8 595.19h2.6M175.8 588.18h2.6M175.8 582.45h2.6M175.8 577.61h2.6M175.8 573.41h2.6M175.8 569.71h2.6M175.8 638.75h5.2M175.8 689.32h2.6M175.8 676.58h2.6M175.8 667.54h2.6M175.8 660.53h2.6M175.8 654.80h2.6M175.8 649.96h2.6M175.8 645.76h2.6M175.8 642.06h2.6M175.8 711.10h5.2M175.8 711.1v-5.2M205.1 711.1v-5.2M234.4 711.1v-5.2M263.7 711.1v-5.2M293.0 711.1v-5.2M322.3 711.1v-5.2M351.6 711.1v-5.2M380.9 711.1v-5.2M410.2 711.1v-5.2M439.5 711.1v-5.2" stroke="#111" stroke-width="1.15" fill="none"/>
<text transform="translate(307.6 742.3) scale(1.07 1)" text-anchor="middle">Density</text>
<text transform="translate(147.8 638.5) rotate(-90) scale(1.07 1)" text-anchor="middle">Times (ns)</text>
<clipPath id="cp4"><rect x="169.8" y="560.4" width="275.7" height="151.1"/></clipPath>
<g clip-path="url(#cp4)">
<polyline points="175.8,568.6 205.1,587.8 234.4,611.4 263.7,627.5 293.0,639.4 322.3,647.6 351.6,659.0 380.9,670.5 410.2,676.5 439.5,680.0" stroke="#a01414" stroke-width="1.1" fill="none"/>
</g>
<path d="M172.6 568.6h6.4M175.8 565.4v6.4" stroke="#a01414" stroke-width="1" fill="none"/>
<path d="M201.9 587.8h6.4M205.1 584.6v6.4" stroke="#a01414" stroke-width="1" fill="none"/>
<path d="M231.2 611.4h6.4M234.4 608.2v6.4" stroke="#a01414" stroke-width="1" fill="none"/>
<path d="M260.5 627.5h6.4M263.7 624.3v6.4" stroke="#a01414" stroke-width="1" fill="none"/>
<path d="M289.8 639.4h6.4M293.0 636.2v6.4" stroke="#a01414" stroke-width="1" fill="none"/>
<path d="M319.1 647.6h6.4M322.3 644.4v6.4" stroke="#a01414" stroke-width="1" fill="none"/>
<path d="M348.4 659.0h6.4M351.6 655.8v6.4" stroke="#a01414" stroke-width="1" fill="none"/>
<path d="M377.7 670.5h6.4M380.9 667.3v6.4" stroke="#a01414" stroke-width="1" fill="none"/>
<path d="M407.0 676.5h6.4M410.2 673.3v6.4" stroke="#a01414" stroke-width="1" fill="none"/>
<path d="M436.3 680.0h6.4M439.5 676.8v6.4" stroke="#a01414" stroke-width="1" fill="none"/>
<g clip-path="url(#cp4)">
<polyline points="175.8,597.3 205.1,597.8 234.4,598.7 263.7,600.0 293.0,600.8 322.3,604.3 351.6,610.0 380.9,614.0 410.2,616.1 439.5,617.9" stroke="#00a000" stroke-width="1.1" fill="none"/>
</g>
<rect x="172.7" y="594.2" width="6.2" height="6.2" fill="#00a000"/>
<rect x="202.0" y="594.7" width="6.2" height="6.2" fill="#00a000"/>
<rect x="231.3" y="595.6" width="6.2" height="6.2" fill="#00a000"/>
<rect x="260.6" y="596.9" width="6.2" height="6.2" fill="#00a000"/>
<rect x="289.9" y="597.7" width="6.2" height="6.2" fill="#00a000"/>
<rect x="319.2" y="601.2" width="6.2" height="6.2" fill="#00a000"/>
<rect x="348.5" y="606.9" width="6.2" height="6.2" fill="#00a000"/>
<rect x="377.8" y="610.9" width="6.2" height="6.2" fill="#00a000"/>
<rect x="407.1" y="613.0" width="6.2" height="6.2" fill="#00a000"/>
<rect x="436.4" y="614.8" width="6.2" height="6.2" fill="#00a000"/>
<g clip-path="url(#cp4)">
<polyline points="175.8,596.0 205.1,596.6 234.4,597.4 263.7,598.7 293.0,600.8 322.3,604.3 351.6,610.0 380.9,613.2 410.2,614.9 439.5,616.1" stroke="#5464d6" stroke-width="1.1" fill="none"/>
</g>
<circle cx="175.8" cy="596.0" r="3.2" fill="#5464d6"/>
<circle cx="205.1" cy="596.6" r="3.2" fill="#5464d6"/>
<circle cx="234.4" cy="597.4" r="3.2" fill="#5464d6"/>
<circle cx="263.7" cy="598.7" r="3.2" fill="#5464d6"/>
<circle cx="293.0" cy="600.8" r="3.2" fill="#5464d6"/>
<circle cx="322.3" cy="604.3" r="3.2" fill="#5464d6"/>
<circle cx="351.6" cy="610.0" r="3.2" fill="#5464d6"/>
<circle cx="380.9" cy="613.2" r="3.2" fill="#5464d6"/>
<circle cx="410.2" cy="614.9" r="3.2" fill="#5464d6"/>
<circle cx="439.5" cy="616.1" r="3.2" fill="#5464d6"/>
<g clip-path="url(#cp4)">
<polyline points="175.8,624.9 205.1,626.3 234.4,627.0 263.7,626.6 293.0,627.5 322.3,626.6 351.6,624.3 380.9,624.9 410.2,626.6 439.5,626.6" stroke="#14148c" stroke-width="1.1" fill="none"/>
</g>
<path d="M172.8 621.9l6 6M172.8 627.9l6 -6" stroke="#14148c" stroke-width="1.1" fill="none"/>
<path d="M202.1 623.3l6 6M202.1 629.3l6 -6" stroke="#14148c" stroke-width="1.1" fill="none"/>
<path d="M231.4 624.0l6 6M231.4 630.0l6 -6" stroke="#14148c" stroke-width="1.1" fill="none"/>
<path d="M260.7 623.6l6 6M260.7 629.6l6 -6" stroke="#14148c" stroke-width="1.1" fill="none"/>
<path d="M290.0 624.5l6 6M290.0 630.5l6 -6" stroke="#14148c" stroke-width="1.1" fill="none"/>
<path d="M319.3 623.6l6 6M319.3 629.6l6 -6" stroke="#14148c" stroke-width="1.1" fill="none"/>
<path d="M348.6 621.3l6 6M348.6 627.3l6 -6" stroke="#14148c" stroke-width="1.1" fill="none"/>
<path d="M377.9 621.9l6 6M377.9 627.9l6 -6" stroke="#14148c" stroke-width="1.1" fill="none"/>
<path d="M407.2 623.6l6 6M407.2 629.6l6 -6" stroke="#14148c" stroke-width="1.1" fill="none"/>
<path d="M436.5 623.6l6 6M436.5 629.6l6 -6" stroke="#14148c" stroke-width="1.1" fill="none"/>
<g clip-path="url(#cp4)">
</g>
<text transform="translate(390.8 579.0) scale(1.07 1)" text-anchor="end">BitSet</text>
<path d="M397.0 576.0h30.5" stroke="#a01414" stroke-width="1.1"/>
<path d="M409.0 576.0h6.4M412.2 572.8v6.4" stroke="#a01414" stroke-width="1" fill="none"/>
<text transform="translate(390.8 590.0) scale(1.07 1)" text-anchor="end">Concise</text>
<path d="M397.0 587.0h30.5" stroke="#00a000" stroke-width="1.1"/>
<rect x="409.1" y="583.9" width="6.2" height="6.2" fill="#00a000"/>
<text transform="translate(390.8 601.1) scale(1.07 1)" text-anchor="end">WAH</text>
<path d="M397.0 598.1h30.5" stroke="#5464d6" stroke-width="1.1"/>
<circle cx="412.2" cy="598.1" r="3.2" fill="#5464d6"/>
<text transform="translate(390.8 612.1) scale(1.07 1)" text-anchor="end">Roaring</text>
<path d="M397.0 609.1h30.5" stroke="#14148c" stroke-width="1.1"/>
<path d="M409.2 606.1l6 6M409.2 612.1l6 -6" stroke="#14148c" stroke-width="1.1" fill="none"/>
</g>
<g>
<text transform="translate(491.2 571.6) scale(1.07 1)" text-anchor="end">10<tspan dy="-3.8" font-size="7.8">6</tspan></text>
<text transform="translate(491.2 619.8) scale(1.07 1)" text-anchor="end">10<tspan dy="-3.8" font-size="7.8">5</tspan></text>
<text transform="translate(491.2 668.1) scale(1.07 1)" text-anchor="end">10<tspan dy="-3.8" font-size="7.8">4</tspan></text>
<text transform="translate(491.2 716.3) scale(1.07 1)" text-anchor="end">10<tspan dy="-3.8" font-size="7.8">3</tspan></text>
<text transform="translate(497.6 727.1) scale(1.07 1)" text-anchor="middle">2<tspan dy="-3.8" font-size="7.8">-10</tspan></text>
<text transform="translate(526.9 727.1) scale(1.07 1)" text-anchor="middle">2<tspan dy="-3.8" font-size="7.8">-9</tspan></text>
<text transform="translate(556.2 727.1) scale(1.07 1)" text-anchor="middle">2<tspan dy="-3.8" font-size="7.8">-8</tspan></text>
<text transform="translate(585.5 727.1) scale(1.07 1)" text-anchor="middle">2<tspan dy="-3.8" font-size="7.8">-7</tspan></text>
<text transform="translate(614.8 727.1) scale(1.07 1)" text-anchor="middle">2<tspan dy="-3.8" font-size="7.8">-6</tspan></text>
<text transform="translate(644.1 727.1) scale(1.07 1)" text-anchor="middle">2<tspan dy="-3.8" font-size="7.8">-5</tspan></text>
<text transform="translate(673.4 727.1) scale(1.07 1)" text-anchor="middle">2<tspan dy="-3.8" font-size="7.8">-4</tspan></text>
<text transform="translate(702.7 727.1) scale(1.07 1)" text-anchor="middle">2<tspan dy="-3.8" font-size="7.8">-3</tspan></text>
<text transform="translate(732.0 727.1) scale(1.07 1)" text-anchor="middle">2<tspan dy="-3.8" font-size="7.8">-2</tspan></text>
<text transform="translate(761.3 727.1) scale(1.07 1)" text-anchor="middle">2<tspan dy="-3.8" font-size="7.8">-1</tspan></text>
<path d="M497.6 566.4V711.1H761.3M497.6 566.40h5.2M497.6 600.11h2.6M497.6 591.62h2.6M497.6 585.59h2.6M497.6 580.92h2.6M497.6 577.10h2.6M497.6 573.87h2.6M497.6 571.07h2.6M497.6 568.61h2.6M497.6 614.63h5.2M497.6 648.35h2.6M497.6 639.85h2.6M497.6 633.83h2.6M497.6 629.15h2.6M497.6 625.33h2.6M497.6 622.10h2.6M497.6 619.31h2.6M497.6 616.84h2.6M497.6 662.87h5.2M497.6 696.58h2.6M497.6 688.09h2.6M497.6 682.06h2.6M497.6 677.39h2.6M497.6 673.57h2.6M497.6 670.34h2.6M497.6 667.54h2.6M497.6 665.07h2.6M497.6 711.10h5.2M497.6 711.1v-5.2M526.9 711.1v-5.2M556.2 711.1v-5.2M585.5 711.1v-5.2M614.8 711.1v-5.2M644.1 711.1v-5.2M673.4 711.1v-5.2M702.7 711.1v-5.2M732.0 711.1v-5.2M761.3 711.1v-5.2" stroke="#111" stroke-width="1.15" fill="none"/>
<text transform="translate(629.5 742.3) scale(1.07 1)" text-anchor="middle">Density</text>
<text transform="translate(469.6 638.5) rotate(-90) scale(1.07 1)" text-anchor="middle">Times (ns)</text>
<clipPath id="cp5"><rect x="491.6" y="560.4" width="275.7" height="151.1"/></clipPath>
<g clip-path="url(#cp5)">
<polyline points="497.6,690.8 526.9,689.9 556.2,694.8 585.5,697.8 614.8,700.8 644.1,703.4 673.4,703.9 702.7,706.9 732.0,706.0 761.3,705.7" stroke="#a01414" stroke-width="1.1" fill="none"/>
</g>
<path d="M494.4 690.8h6.4M497.6 687.6v6.4" stroke="#a01414" stroke-width="1" fill="none"/>
<path d="M523.7 689.9h6.4M526.9 686.7v6.4" stroke="#a01414" stroke-width="1" fill="none"/>
<path d="M553.0 694.8h6.4M556.2 691.6v6.4" stroke="#a01414" stroke-width="1" fill="none"/>
<path d="M582.3 697.8h6.4M585.5 694.6v6.4" stroke="#a01414" stroke-width="1" fill="none"/>
<path d="M611.6 700.8h6.4M614.8 697.6v6.4" stroke="#a01414" stroke-width="1" fill="none"/>
<path d="M640.9 703.4h6.4M644.1 700.2v6.4" stroke="#a01414" stroke-width="1" fill="none"/>
<path d="M670.2 703.9h6.4M673.4 700.7v6.4" stroke="#a01414" stroke-width="1" fill="none"/>
<path d="M699.5 706.9h6.4M702.7 703.7v6.4" stroke="#a01414" stroke-width="1" fill="none"/>
<path d="M728.8 706.0h6.4M732.0 702.8v6.4" stroke="#a01414" stroke-width="1" fill="none"/>
<path d="M758.1 705.7h6.4M761.3 702.5v6.4" stroke="#a01414" stroke-width="1" fill="none"/>
<g clip-path="url(#cp5)">
<polyline points="497.6,606.0 526.9,603.0 556.2,602.2 585.5,591.2 614.8,591.7 644.1,600.9 673.4,620.0 702.7,640.1 732.0,653.7 761.3,666.3" stroke="#00a000" stroke-width="1.1" fill="none"/>
</g>
<rect x="494.5" y="602.9" width="6.2" height="6.2" fill="#00a000"/>
<rect x="523.8" y="599.9" width="6.2" height="6.2" fill="#00a000"/>
<rect x="553.1" y="599.1" width="6.2" height="6.2" fill="#00a000"/>
<rect x="582.4" y="588.1" width="6.2" height="6.2" fill="#00a000"/>
<rect x="611.7" y="588.6" width="6.2" height="6.2" fill="#00a000"/>
<rect x="641.0" y="597.8" width="6.2" height="6.2" fill="#00a000"/>
<rect x="670.3" y="616.9" width="6.2" height="6.2" fill="#00a000"/>
<rect x="699.6" y="637.0" width="6.2" height="6.2" fill="#00a000"/>
<rect x="728.9" y="650.6" width="6.2" height="6.2" fill="#00a000"/>
<rect x="758.2" y="663.2" width="6.2" height="6.2" fill="#00a000"/>
<g clip-path="url(#cp5)">
<polyline points="497.6,594.3 526.9,591.2 556.2,591.2 585.5,585.0 614.8,593.4 644.1,607.8 673.4,622.2 702.7,643.2 732.0,654.9 761.3,669.1" stroke="#5464d6" stroke-width="1.1" fill="none"/>
</g>
<circle cx="497.6" cy="594.3" r="3.2" fill="#5464d6"/>
<circle cx="526.9" cy="591.2" r="3.2" fill="#5464d6"/>
<circle cx="556.2" cy="591.2" r="3.2" fill="#5464d6"/>
<circle cx="585.5" cy="585.0" r="3.2" fill="#5464d6"/>
<circle cx="614.8" cy="593.4" r="3.2" fill="#5464d6"/>
<circle cx="644.1" cy="607.8" r="3.2" fill="#5464d6"/>
<circle cx="673.4" cy="622.2" r="3.2" fill="#5464d6"/>
<circle cx="702.7" cy="643.2" r="3.2" fill="#5464d6"/>
<circle cx="732.0" cy="654.9" r="3.2" fill="#5464d6"/>
<circle cx="761.3" cy="669.1" r="3.2" fill="#5464d6"/>
<g clip-path="url(#cp5)">
<polyline points="497.6,673.9 526.9,674.2 556.2,674.2 585.5,673.7 614.8,676.8 644.1,684.7 673.4,683.3 702.7,682.9 732.0,683.5 761.3,685.0" stroke="#14148c" stroke-width="1.1" fill="none"/>
</g>
<path d="M494.6 670.9l6 6M494.6 676.9l6 -6" stroke="#14148c" stroke-width="1.1" fill="none"/>
<path d="M523.9 671.2l6 6M523.9 677.2l6 -6" stroke="#14148c" stroke-width="1.1" fill="none"/>
<path d="M553.2 671.2l6 6M553.2 677.2l6 -6" stroke="#14148c" stroke-width="1.1" fill="none"/>
<path d="M582.5 670.7l6 6M582.5 676.7l6 -6" stroke="#14148c" stroke-width="1.1" fill="none"/>
<path d="M611.8 673.8l6 6M611.8 679.8l6 -6" stroke="#14148c" stroke-width="1.1" fill="none"/>
<path d="M641.1 681.7l6 6M641.1 687.7l6 -6" stroke="#14148c" stroke-width="1.1" fill="none"/>
<path d="M670.4 680.3l6 6M670.4 686.3l6 -6" stroke="#14148c" stroke-width="1.1" fill="none"/>
<path d="M699.7 679.9l6 6M699.7 685.9l6 -6" stroke="#14148c" stroke-width="1.1" fill="none"/>
<path d="M729.0 680.5l6 6M729.0 686.5l6 -6" stroke="#14148c" stroke-width="1.1" fill="none"/>
<path d="M758.3 682.0l6 6M758.3 688.0l6 -6" stroke="#14148c" stroke-width="1.1" fill="none"/>
<g clip-path="url(#cp5)">
</g>
<text transform="translate(712.6 579.0) scale(1.07 1)" text-anchor="end">BitSet</text>
<path d="M718.8 576.0h30.5" stroke="#a01414" stroke-width="1.1"/>
<path d="M730.8 576.0h6.4M734.0 572.8v6.4" stroke="#a01414" stroke-width="1" fill="none"/>
<text transform="translate(712.6 590.0) scale(1.07 1)" text-anchor="end">Concise</text>
<path d="M718.8 587.0h30.5" stroke="#00a000" stroke-width="1.1"/>
<rect x="730.9" y="583.9" width="6.2" height="6.2" fill="#00a000"/>
<text transform="translate(712.6 601.1) scale(1.07 1)" text-anchor="end">WAH</text>
<path d="M718.8 598.1h30.5" stroke="#5464d6" stroke-width="1.1"/>
<circle cx="734.0" cy="598.1" r="3.2" fill="#5464d6"/>
<text transform="translate(712.6 612.1) scale(1.07 1)" text-anchor="end">Roaring</text>
<path d="M718.8 609.1h30.5" stroke="#14148c" stroke-width="1.1"/>
<path d="M731.0 606.1l6 6M731.0 612.1l6 -6" stroke="#14148c" stroke-width="1.1" fill="none"/>
</g>
</svg>
<div class="cap" style="left:97.1px;top:287.9px">(a) Compression: uniform distribution</div>
<div class="cap" style="left:419.1px;top:287.9px">(b) Compression: <span class="cm">Beta(0.5, 1)</span> distribution</div>
<div class="cap" style="left:97.1px;top:518.9px">(c) Intersection: discretized <span class="cm">Beta(0.5, 1)</span> distribution</div>
<div class="cap" style="left:419.1px;top:518.9px">(d) Union: discretized <span class="cm">Beta(0.5, 1)</span> distribution</div>
<div class="cap" style="left:97.1px;top:748.9px">(e) Append: uniform distribution</div>
<div class="cap" style="left:419.1px;top:748.9px">(f) Removal: uniform distribution</div>
<div class="fig">Figure 2. Times and compression measurements: average of 100 runs</div>
<svg style="position:absolute;left:0;top:0" width="916" height="814" viewBox="0 0 916 814">
<path transform="translate(0.600 0.600)" d="M703.500 757.800c-7.100 0-12.800 4.800-12.800 10.700 0 3.300 1.800 6.300 4.700 8.200l-1.600 4.700 5.300-2.800c1.400.400 2.900.600 4.400.600 7.100 0 12.800-4.800 12.800-10.700s-5.700-10.700-12.800-10.700z" fill="#858585" stroke="#858585" stroke-width="0.350"/>
<path d="M703.500 757.800c-7.100 0-12.800 4.800-12.800 10.700 0 3.300 1.800 6.300 4.700 8.200l-1.600 4.700 5.300-2.800c1.400.400 2.900.600 4.400.600 7.100 0 12.800-4.800 12.800-10.700s-5.700-10.700-12.800-10.700z" fill="#fff" stroke="#d8d8d8" stroke-width="0.500"/>
<path transform="translate(0.600 0.600)" d="M715.200 766.700c-5.800 0-10.500 4.100-10.500 9.200s4.700 9.200 10.500 9.200c1.300 0 2.500-.2 3.600-.5l4.700 2.800-1.300-4.400c2.100-1.700 3.500-4.200 3.500-7.100 0-5.100-4.700-9.200-10.500-9.200z" fill="#858585" stroke="#858585" stroke-width="0.350"/>
<path d="M715.200 766.700c-5.800 0-10.500 4.100-10.500 9.200s4.700 9.200 10.500 9.200c1.300 0 2.500-.2 3.600-.5l4.700 2.800-1.300-4.400c2.100-1.700 3.500-4.200 3.500-7.100 0-5.100-4.700-9.200-10.500-9.200z" fill="#fff" stroke="#d0d0d0" stroke-width="0.500"/>
<g fill="#fff" stroke="#999" stroke-width="0.500"><circle cx="698.300" cy="764" r="1.200"/><circle cx="708.600" cy="764" r="1.200"/><circle cx="711.300" cy="771.800" r="1.100"/><circle cx="719.300" cy="771.800" r="1.100"/></g>
</svg>
<div class="wm">开发架构二三事</div>
</body></html>
